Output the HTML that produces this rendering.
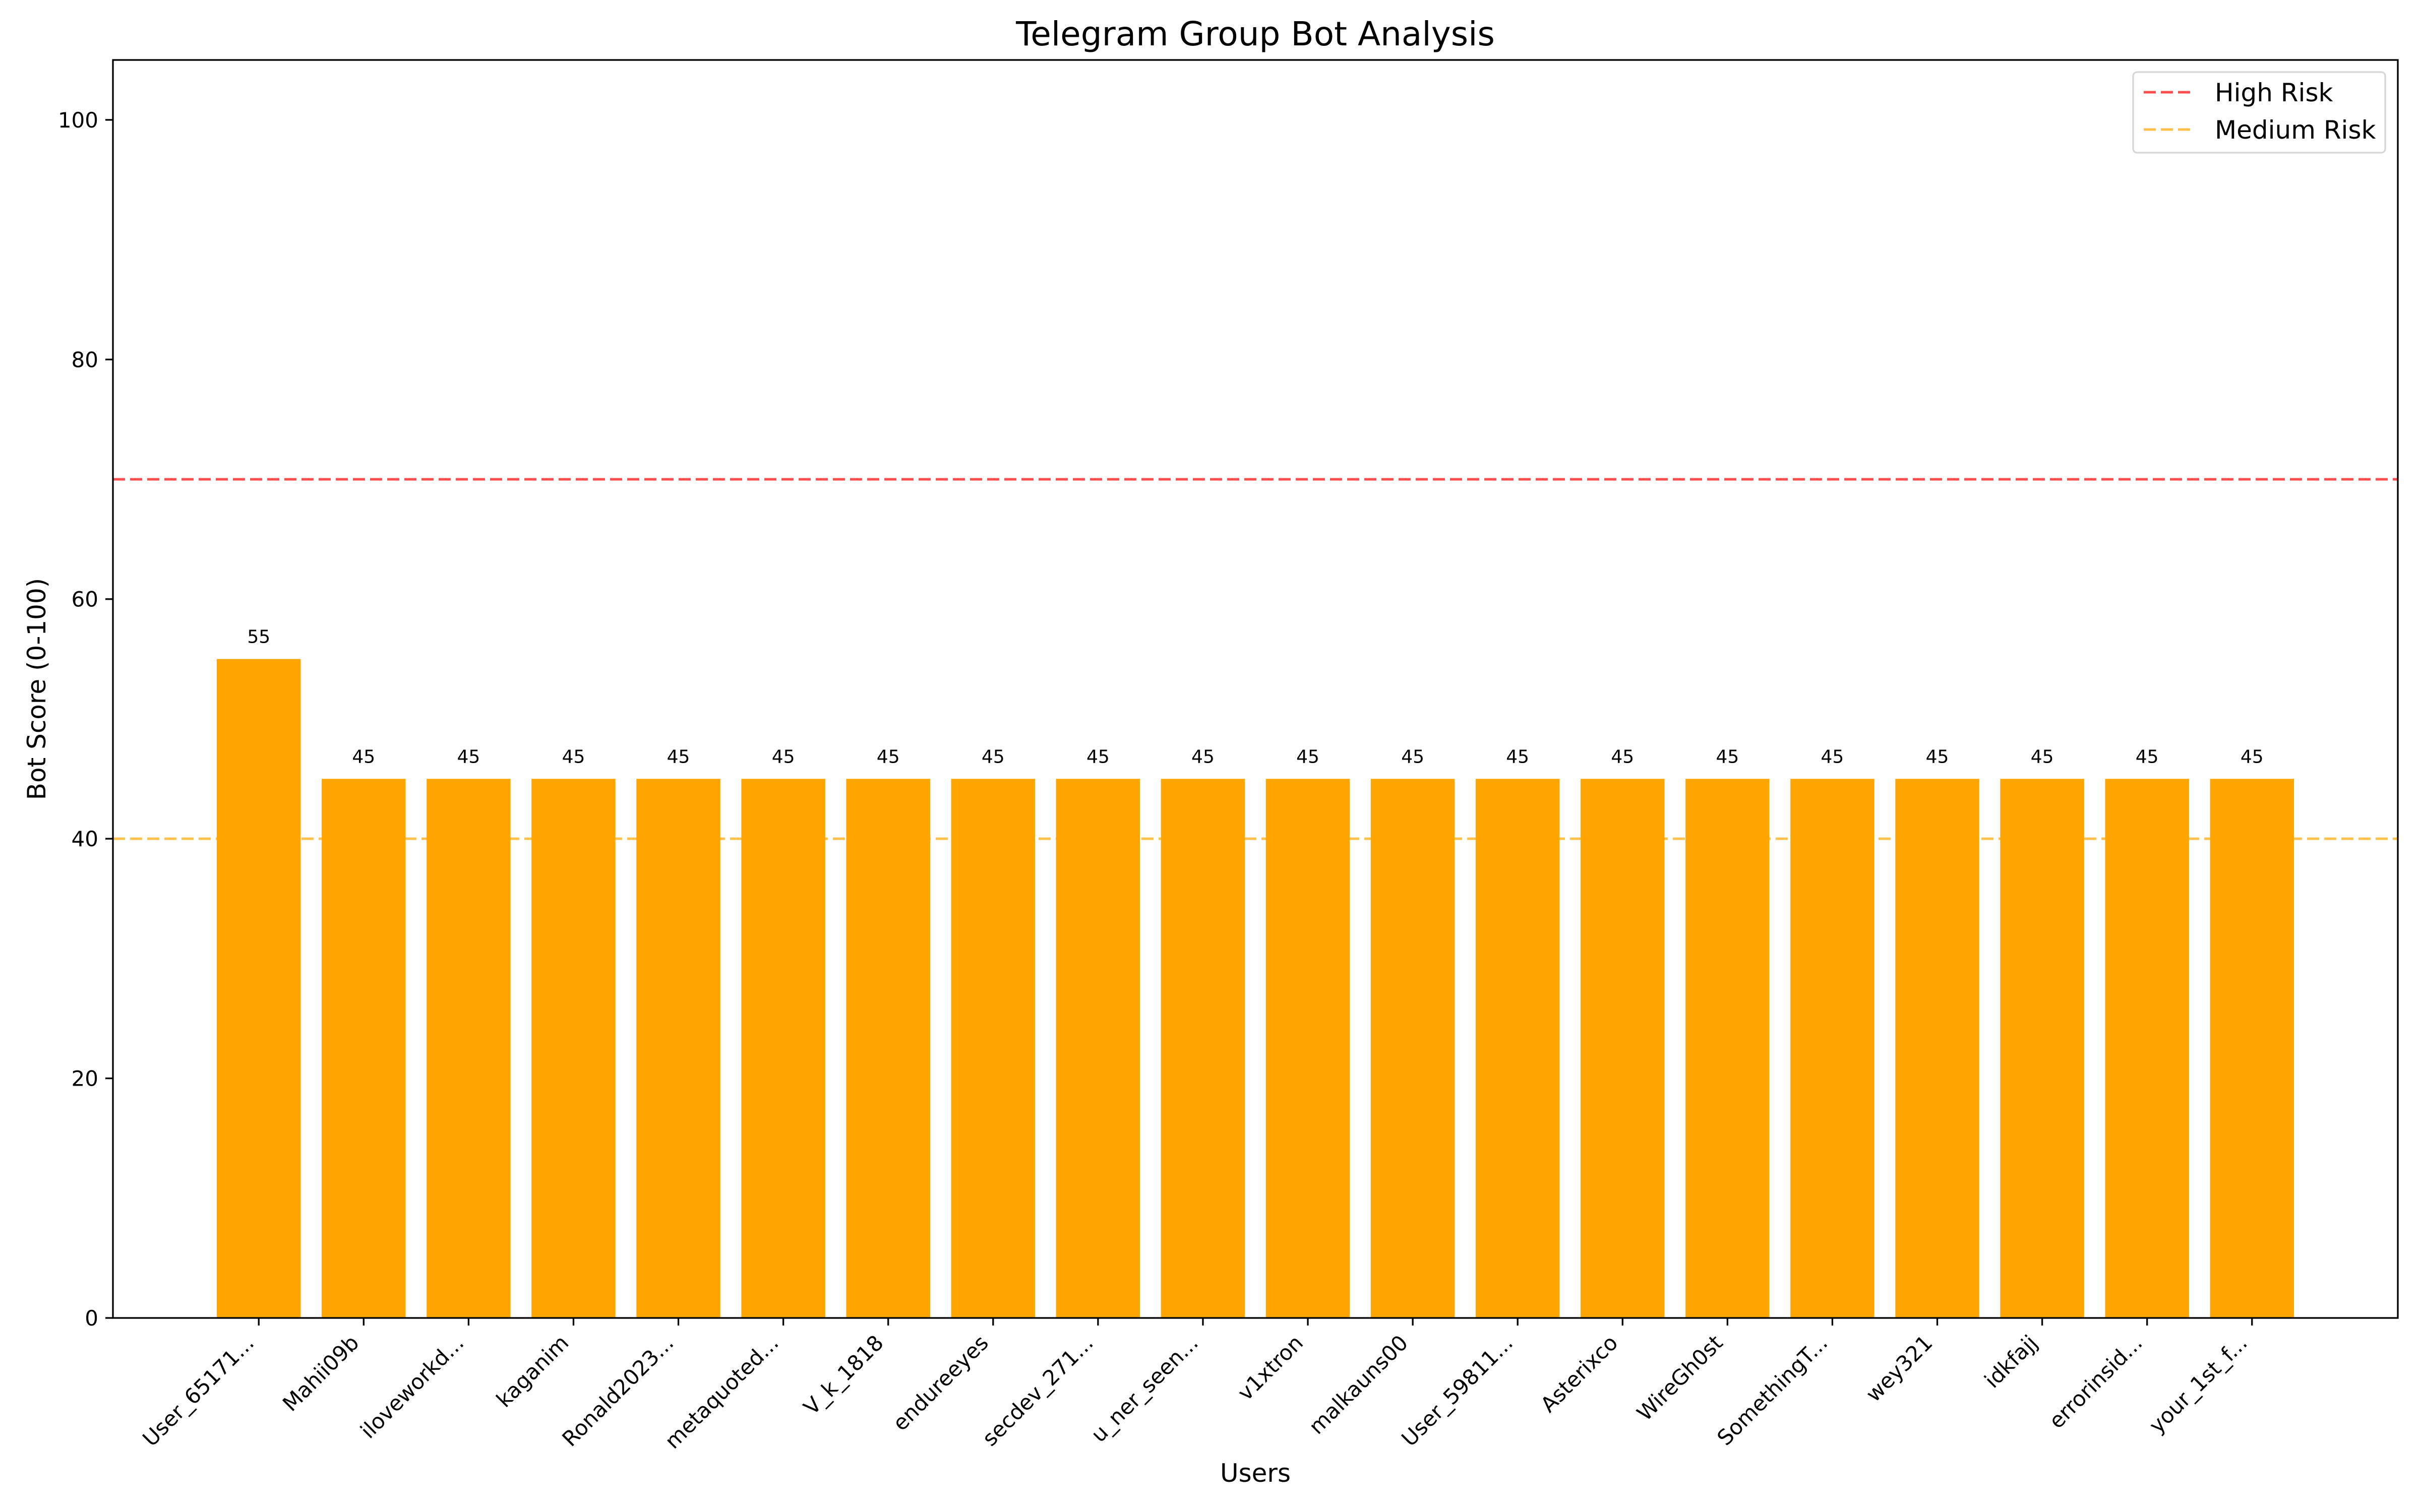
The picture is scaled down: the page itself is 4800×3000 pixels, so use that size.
<!DOCTYPE html>
<html><head><meta charset="utf-8"><style>
html,body{margin:0;padding:0;background:#fff;}
svg{display:block;font-family:"DejaVu Sans","Liberation Sans",sans-serif;}
</style></head><body>
<svg id="chart" width="4800" height="3000" viewBox="0 0 4800 3000" xmlns="http://www.w3.org/2000/svg">
<rect width="4800" height="3000" fill="#fff"/>
<text x="2490" y="90" font-size="66" text-anchor="middle">Telegram Group Bot Analysis</text>
<text x="2490" y="2940" font-size="50" text-anchor="middle">Users</text>
<text x="0" y="0" font-size="50" text-anchor="middle" transform="translate(90,1367) rotate(-90)">Bot Score (0-100)</text>
<g id="plot"></g>
</svg>
<script>
const users = ["User_65171...","Mahii09b","iloveworkd...","kaganim","Ronald2023...","metaquoted...","V_k_1818","endureeyes","secdev_271...","u_ner_seen...","v1xtron","malkauns00","User_59811...","Asterixco","WireGh0st","SomethingT...","wey321","idkfajj","errorinsid...","your_1st_f..."];
const scores = [55,45,45,45,45,45,45,45,45,45,45,45,45,45,45,45,45,45,45,45];
const yTicks = [0,20,40,60,80,100];
const thresholdValues = [70,40];
const thresholdNames = ["High Risk","Medium Risk"];

const NS = "http://www.w3.org/2000/svg";
const L = 224, R = 4756, T = 119, B = 2615;
const xMin = -1.39, xMax = users.length - 1 + 1.39, yMin = 0, yMax = 105;
const xs = v => L + (v - xMin) / (xMax - xMin) * (R - L);
const ys = v => B - (v - yMin) / (yMax - yMin) * (B - T);
const g = document.getElementById('plot');
function mk(tag, attrs, parent) {
  const e = document.createElementNS(NS, tag);
  for (const k in attrs) e.setAttribute(k, attrs[k]);
  (parent || g).appendChild(e);
  return e;
}
const thrColors = ["rgba(255,0,0,0.7)", "rgba(255,165,0,0.7)"];
thresholdValues.forEach((v, i) => {
  const ln = mk('line', {x1: L, x2: R, y1: ys(v), y2: ys(v), stroke: thrColors[i], 'stroke-width': 5, 'stroke-dasharray': '24 10'});
  
  
});
const bw = 0.8 * (R - L) / (xMax - xMin);
users.forEach((u, i) => {
  const cx = xs(i);
  const r = mk('rect', {x: cx - bw / 2, y: ys(scores[i]), width: bw, height: ys(0) - ys(scores[i]), fill: '#FFA500'});
  
  
  const t = mk('text', {x: cx, y: ys(scores[i]) - 32, 'font-size': 36, 'text-anchor': 'middle'});
  t.textContent = scores[i];
  
  
  const tk = mk('line', {x1: cx, x2: cx, y1: B, y2: B + 15, stroke: '#000', 'stroke-width': 3.3});
  
  
  const ax = cx - 7, ay = B + 29 + 23;
  const lb = mk('text', {x: 0, y: 0, 'font-size': 42, 'text-anchor': 'end', transform: `translate(${ax},${ay}) rotate(-45)`});
  lb.textContent = u;
  
  
});
yTicks.forEach(v => {
  const tk = mk('line', {x1: L - 15, x2: L, y1: ys(v), y2: ys(v), stroke: '#000', 'stroke-width': 3.3});
  
  
  const t = mk('text', {x: L - 29, y: ys(v) + 15, 'font-size': 42, 'text-anchor': 'end'});
  t.textContent = v;
  
  
});
const fr = mk('rect', {x: L, y: T, width: R - L, height: B - T, fill: 'none', stroke: '#000', 'stroke-width': 3.3});


const lg = mk('g', {});


const box = mk('rect', {x: 4231, y: 143, width: 500, height: 160, rx: 8, fill: 'rgba(255,255,255,0.8)', stroke: '#d6d6d6', 'stroke-width': 3.3}, lg);


thresholdNames.forEach((n, i) => {
  const cy = 183 + i * 74;
  const ln = mk('line', {x1: 4252, x2: 4352, y1: cy, y2: cy, stroke: thrColors[i], 'stroke-width': 5, 'stroke-dasharray': '24 10'}, lg);
  
  
  const t = mk('text', {x: 4393, y: cy + 18, 'font-size': 50}, lg);
  t.textContent = n;
  
  
});
</script>
</body></html>
